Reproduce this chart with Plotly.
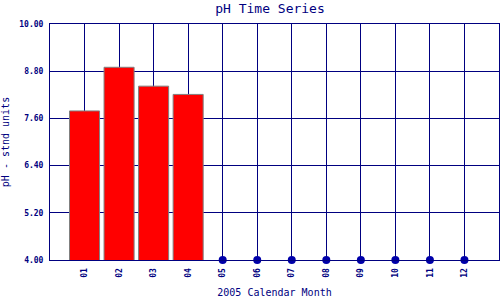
import plotly.graph_objects as go

months = ["01", "02", "03", "04", "05", "06", "07", "08", "09", "10", "11", "12"]
ph_values = [7.79, 8.90, 8.42, 8.21]
empty_months_y = [4.0, 4.0, 4.0, 4.0, 4.0, 4.0, 4.0, 4.0]
y_ticks = [4.0, 5.2, 6.4, 7.6, 8.8, 10.0]

navy = "#000080"
xpos = list(range(1, len(months) + 1))

fig = go.Figure()
fig.add_trace(go.Bar(
    x=xpos[:len(ph_values)], y=ph_values, width=0.87,
    marker=dict(color="#FF0000", line=dict(color="#808080", width=1)),
    showlegend=False,
))
fig.add_trace(go.Scatter(
    x=xpos[len(ph_values):], y=empty_months_y, mode="markers",
    marker=dict(color="#0000AA", size=8), cliponaxis=False, showlegend=False,
))

mono = "DejaVu Sans Mono"
fig.update_layout(
    width=500, height=300,
    margin=dict(l=50, r=1, t=24, b=40),
    paper_bgcolor="white", plot_bgcolor="white",
    title=dict(text="pH Time Series", x=0.54, xanchor="center", y=0.988, yanchor="top",
               font=dict(family=mono, size=13, color=navy)),
    xaxis=dict(range=[0, 13], tickvals=xpos, ticktext=months, tickangle=-90,
               showgrid=True, gridcolor=navy, gridwidth=1,
               showline=True, linecolor=navy, linewidth=1, mirror=True,
               ticks="", zeroline=False, ticklabelstandoff=4,
               tickfont=dict(family=mono, size=8, color=navy, weight="bold"),
               title=dict(text="2005 Calendar Month", standoff=12,
                          font=dict(family=mono, size=10, color=navy))),
    yaxis=dict(range=[4, 10], tickvals=y_ticks, ticktext=[f"{v:.2f}" for v in y_ticks],
               showgrid=True, gridcolor=navy, gridwidth=1,
               showline=True, linecolor=navy, linewidth=1, mirror=True,
               ticks="", zeroline=False, ticklabelstandoff=4,
               tickfont=dict(family=mono, size=8, color=navy, weight="bold"),
               title=dict(text="pH - stnd units", standoff=10,
                          font=dict(family=mono, size=10, color=navy))),
    bargap=0.1,
)
fig.write_html("out.html")
